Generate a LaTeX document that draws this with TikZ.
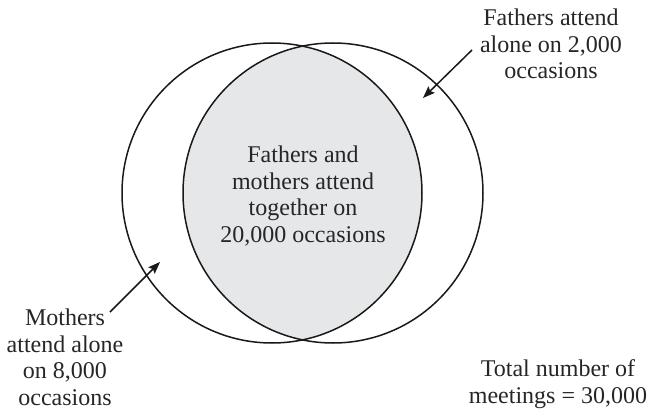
\documentclass[tikz,border=0pt]{standalone}
\usepackage{fontspec}
\setmainfont{Liberation Serif}
\usetikzlibrary{arrows.meta}
\definecolor{lensgray}{HTML}{E6E7E8}
\begin{document}
\begin{tikzpicture}[x=1pt,y=-1pt,
  setcircle/.style={draw=black!90,line width=1.5pt},
  label/.style={align=center,inner sep=0pt,anchor=base,
    font=\fontsize{24}{26.5}\selectfont,text=black!85},
  pointer/.style={draw=black!90,line width=1.5pt,
    -{Stealth[length=12pt,width=9pt,inset=2pt]}}]
  \useasboundingbox (0,0) rectangle (649,412);
  % shared region of the two sets
  \begin{scope}
    \clip (272,193) circle[radius=150pt];
    \fill[lensgray] (333,193) circle[radius=150pt];
  \end{scope}
  \draw[setcircle] (272,193) circle[radius=150pt];
  \draw[setcircle] (333,193) circle[radius=150pt];
  % labels (anchored at the baseline of their last line)
  \node[label] (both) at (303,242) {Fathers and\\mothers attend\\together on\\20,000 occasions};
  \node[label] (fathers) at (551,79) {Fathers attend\\alone on 2,000\\occasions};
  \node[label] (mothers) at (65,405) {Mothers\\attend alone\\on 8,000\\occasions};
  \node[label] (total) at (558,403) {Total number of\\meetings = 30,000};
  % pointers into the single-parent regions
  \coordinate (ftail) at (472,50);
  \coordinate (fhead) at (423,98);
  \coordinate (mtail) at (110,312);
  \coordinate (mhead) at (160,262);
  \draw[pointer] (ftail) -- (fhead);
  \draw[pointer] (mtail) -- (mhead);
\end{tikzpicture}
\end{document}
